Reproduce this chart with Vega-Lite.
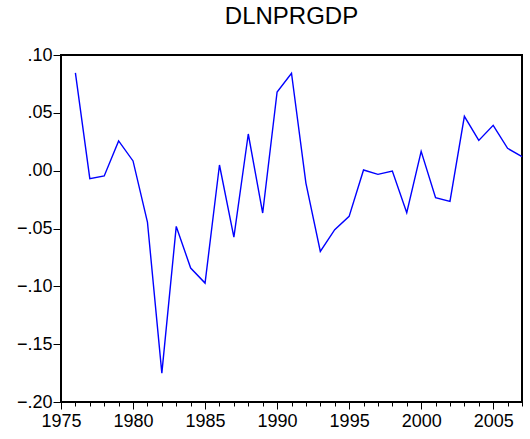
{
  "$schema": "https://vega.github.io/schema/vega-lite/v6.json",
  "width": 461,
  "height": 347,
  "autosize": {"type": "none"},
  "padding": {"left": 61, "top": 55, "right": 8, "bottom": 37},
  "background": "white",
  "title": {
    "text": "DLNPRGDP",
    "font": "Liberation Sans",
    "fontSize": 24,
    "fontWeight": "normal",
    "color": "black",
    "anchor": "middle",
    "frame": "group",
    "baseline": "alphabetic",
    "offset": 5,
    "dy": 7
  },
  "config": {
    "view": {"stroke": "black", "strokeWidth": 2},
    "axis": {
      "grid": false,
      "domain": false,
      "labelFont": "Liberation Sans",
      "labelFontSize": 18,
      "labelColor": "black",
      "tickColor": "black",
      "tickWidth": 1,
      "title": null
    }
  },
  "data": {
    "values": [
      {"year": 1976, "value": 0.0845},
      {"year": 1977, "value": -0.0069},
      {"year": 1978, "value": -0.0046},
      {"year": 1979, "value": 0.0257},
      {"year": 1980, "value": 0.0084},
      {"year": 1981, "value": -0.0444},
      {"year": 1982, "value": -0.175},
      {"year": 1983, "value": -0.0482},
      {"year": 1984, "value": -0.0842},
      {"year": 1985, "value": -0.0972},
      {"year": 1986, "value": 0.0049},
      {"year": 1987, "value": -0.0574},
      {"year": 1988, "value": 0.0317},
      {"year": 1989, "value": -0.0366},
      {"year": 1990, "value": 0.068},
      {"year": 1991, "value": 0.0842},
      {"year": 1992, "value": -0.0107},
      {"year": 1993, "value": -0.0698},
      {"year": 1994, "value": -0.051},
      {"year": 1995, "value": -0.0395},
      {"year": 1996, "value": 0.0006},
      {"year": 1997, "value": -0.0032},
      {"year": 1998, "value": -0.0003},
      {"year": 1999, "value": -0.0363},
      {"year": 2000, "value": 0.0167},
      {"year": 2001, "value": -0.0234},
      {"year": 2002, "value": -0.0265},
      {"year": 2003, "value": 0.047},
      {"year": 2004, "value": 0.0262},
      {"year": 2005, "value": 0.0392},
      {"year": 2006, "value": 0.0193},
      {"year": 2007, "value": 0.0121}
    ]
  },
  "mark": {"type": "line", "color": "#0000FF", "strokeWidth": 1.4},
  "encoding": {
    "x": {
      "field": "year",
      "type": "quantitative",
      "scale": {"domain": [1975, 2007], "nice": false, "zero": false},
      "axis": {
        "values": [1975,1976,1977,1978,1979,1980,1981,1982,1983,1984,1985,1986,1987,1988,1989,1990,1991,1992,1993,1994,1995,1996,1997,1998,1999,2000,2001,2002,2003,2004,2005,2006,2007],
        "labelExpr": "datum.value % 5 === 0 ? datum.value : ''",
        "tickSize": {"condition": {"test": "datum.value % 5 === 0", "value": 7}, "value": 4},
        "labelPadding": 3,
        "labelFlush": false,
        "labelOverlap": false
      }
    },
    "y": {
      "field": "value",
      "type": "quantitative",
      "scale": {"domain": [-0.2, 0.1], "nice": false, "zero": false},
      "axis": {
        "values": [-0.2, -0.15, -0.1, -0.05, 0, 0.05, 0.1],
        "labelExpr": "replace(format(datum.value, '.2f'), '0.', '.')",
        "tickSize": 8,
        "labelPadding": 1,
        "labelFlush": false,
        "labelOverlap": false
      }
    }
  }
}
